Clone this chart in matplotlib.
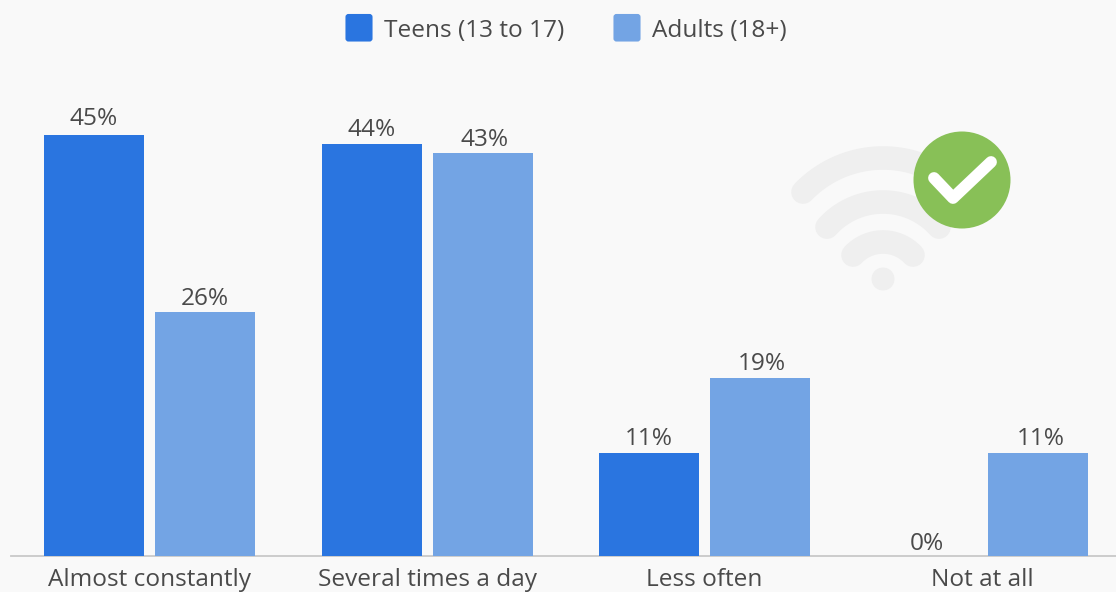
import numpy as np
import matplotlib
matplotlib.use("Agg")
import matplotlib.pyplot as plt
from matplotlib.patches import Circle, FancyBboxPatch

categories = ["Almost constantly", "Several times a day", "Less often", "Not at all"]
teens = [45, 44, 11, 0]
adults = [26, 43, 19, 11]
series_names = ["Teens (13 to 17)", "Adults (18+)"]
W, H = 1116, 592
BG = "#f9f9f9"
C1 = "#2a75e0"
C2 = "#73a4e4"
TXT = "#4a4a4a"
FS = 17.6

plt.rcParams["font.family"] = ["Open Sans", "DejaVu Sans"]

fig = plt.figure(figsize=(W / 100, H / 100), dpi=100, facecolor=BG)

# main axes: x in pixels, y in percent, baseline at pixel 555
px_per_pct = (555.5 - 134.5) / 45
ax = fig.add_axes([0, (H - 555.5) / H, 1, 555.5 / H], facecolor="none")
ax.set_xlim(0, W)
ax.set_ylim(0, 555.5 / px_per_pct)

group_lefts = np.array([44, 321.5, 599, 877])
bar_w = 100
adult_off = 111
# labels in the reference are not quite centred
teen_label_dy = [0.35, 0.18, 0.18, -0.05]
adult_label_dx = [0, 2, 2, 3]

ax.bar(group_lefts, teens, width=bar_w, align="edge", color=C1, zorder=3)
ax.bar(group_lefts + adult_off, adults, width=bar_w, align="edge", color=C2, zorder=3)

for x, v, dy in zip(group_lefts + bar_w / 2, teens, teen_label_dy):
    ax.text(x, v + dy, f"{v}%", ha="center", va="bottom", fontsize=FS, color=TXT)
for x, v, dx in zip(group_lefts + adult_off + bar_w / 2, adults, adult_label_dx):
    ax.text(x + dx, v + 0.18, f"{v}%", ha="center", va="bottom", fontsize=FS, color=TXT)

for s in ["top", "left", "right"]:
    ax.spines[s].set_visible(False)
ax.spines["bottom"].set_color("#c9c9c9")
ax.spines["bottom"].set_linewidth(1.3)
ax.spines["bottom"].set_bounds(11, W)
ax.set_xticks(group_lefts + (adult_off + bar_w) / 2)
ax.set_xticklabels(categories, fontsize=FS, color=TXT)
ax.set_yticks([])
ax.tick_params(axis="x", length=0, pad=9)

# overlay in pixel coordinates for legend and wifi icon
ov = fig.add_axes([0, 0, 1, 1], facecolor="none")
ov.set_xlim(0, W)
ov.set_ylim(H, 0)
ov.axis("off")

for lx, c, tx, name in zip([345, 613], [C1, C2], [384, 652], series_names):
    ov.add_patch(FancyBboxPatch((lx + 1.5, 15), 25, 25.5, boxstyle="round,pad=0,rounding_size=2", fc=c, ec=c, lw=1.5))
    ov.text(tx, 31, name, fontsize=FS, color=TXT, va="center", ha="left")

# wifi icon: three round capped arcs and a dot
wifi = "#efefef"
for half, top, r in [(30, 242, 41), (56, 202, 75), (80, 158, 111)]:
    a = np.arcsin(half / r)
    t = np.linspace(-a, a, 60)
    ov.plot(883 + r * np.sin(t), top + r - r * np.cos(t), color=wifi, lw=17, solid_capstyle="round")
ov.add_patch(Circle((883, 279), 11.5, fc=wifi, ec="none"))

ov.add_patch(Circle((962, 180), 48.5, fc="#88c057", ec="none", zorder=5))
ov.plot([934, 953, 991], [178, 198, 162], color="white", lw=8.5, solid_capstyle="round", solid_joinstyle="round", zorder=6)

fig.savefig("out.png", dpi=100, facecolor=BG)
